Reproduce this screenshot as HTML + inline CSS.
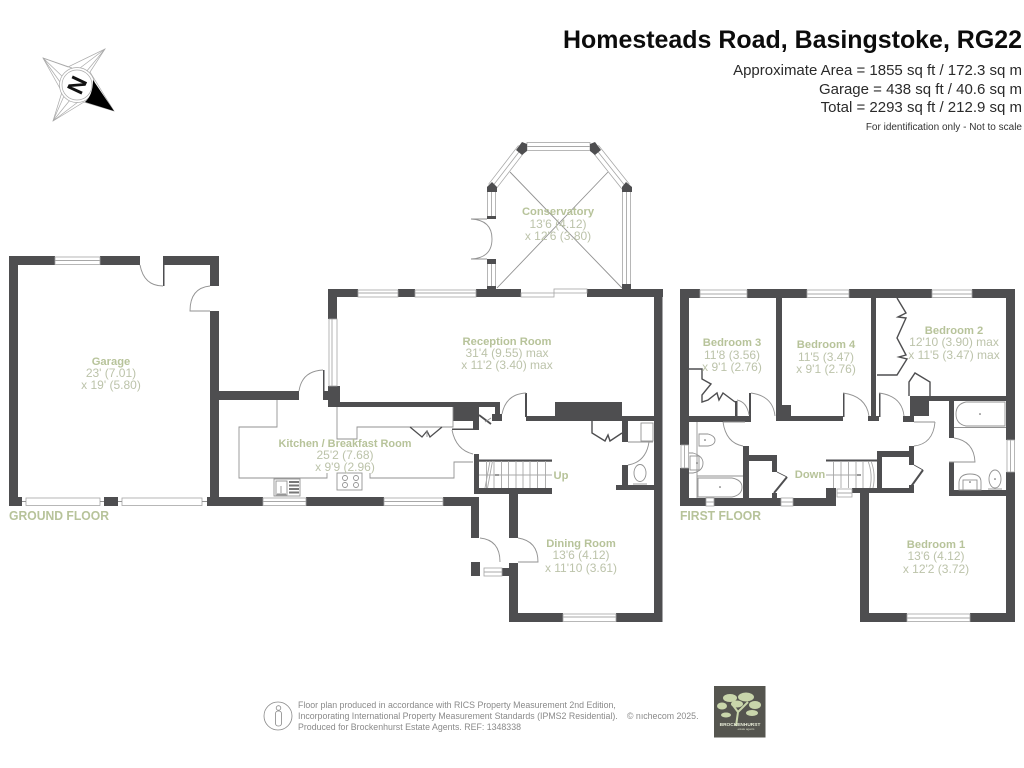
<!DOCTYPE html>
<html><head><meta charset="utf-8"><style>
html,body{margin:0;padding:0;background:#fff;width:1024px;height:768px;overflow:hidden}
svg{display:block}
text{font-family:"Liberation Sans",sans-serif}
.b{font-weight:bold;font-size:11.2px;fill:#b7c39a;text-anchor:middle}
.d{font-size:12px;fill:#bcc3aa;text-anchor:middle}
.w rect{fill:#4e4e50}
.win rect{fill:#fff;stroke:#a5a5a5;stroke-width:.8}
.t{fill:none;stroke:#929292;stroke-width:.9}
.l{fill:none;stroke:#a8a8a8;stroke-width:.9}
</style></head><body>
<svg width="1024" height="768" viewBox="0 0 1024 768" xmlns="http://www.w3.org/2000/svg">
<rect width="1024" height="768" fill="#fff"/>

<!-- header -->
<text x="563" y="48" font-size="25" font-weight="bold" fill="#0c0c0c" textLength="459" lengthAdjust="spacingAndGlyphs">Homesteads Road, Basingstoke, RG22</text>
<g fill="#2a2a2a" font-size="15" text-anchor="end">
<text x="1022" y="75">Approximate Area = 1855 sq ft / 172.3 sq m</text>
<text x="1022" y="94">Garage = 438 sq ft / 40.6 sq m</text>
<text x="1022" y="112">Total = 2293 sq ft / 212.9 sq m</text>
</g>
<text x="1022" y="130" font-size="10" fill="#333" text-anchor="end">For identification only - Not to scale</text>

<!-- compass -->
<g fill="none" stroke="#aaa" stroke-width=".7">
<path d="M43 58L68 67L105 49L90 72L114 111L84 102L53 121L62 92Z" fill="#fff"/>
<path d="M43 58L64 78M105 49L86 72M53 121L70 100M43 58L60 82M43 58L72 68M105 49L80 68M53 121L64 96M53 121L78 102"/>
<circle cx="77" cy="85" r="17.500" fill="#fff"/><circle cx="77" cy="85" r="15"/>
</g>
<path d="M93 80L114 111L85 102Q93 95 93 80Z" fill="#000"/>
<text x="0" y="0" font-size="23" font-weight="bold" fill="#111" text-anchor="middle" transform="translate(77,85) rotate(-65) translate(0,8)">N</text>

<!-- ground floor walls -->
<g class="w">
<!-- garage -->
<rect x="9" y="256" width="9" height="250"/>
<rect x="9" y="256" width="46" height="9"/><rect x="100" y="256" width="40" height="9"/>
<rect x="163" y="256" width="56" height="9"/><rect x="210" y="256" width="9" height="30"/>
<rect x="210" y="311" width="9" height="195"/>
<rect x="163" y="256" width="1.500" height="30"/>
<rect x="9" y="497" width="13" height="9"/><rect x="104" y="497" width="14" height="9"/>
<rect x="207" y="497" width="56" height="9"/><rect x="306" y="497" width="78" height="9"/><rect x="443" y="497" width="36" height="9"/>
<rect x="219" y="391" width="80" height="9"/>
<!-- reception -->
<rect x="328" y="289" width="9" height="30"/><rect x="328" y="386" width="12" height="21"/>
<rect x="323" y="370" width="1.500" height="21"/><rect x="323" y="391" width="5" height="9"/>
<rect x="328" y="289" width="30" height="8"/><rect x="398" y="289" width="17" height="8"/>
<rect x="476" y="289" width="45" height="8"/><rect x="587" y="289" width="76" height="8"/>
<rect x="654" y="289" width="8.500" height="333"/>
<rect x="328" y="402" width="172" height="5"/><rect x="495" y="402" width="5" height="13"/>
<rect x="453" y="407" width="26" height="14"/><rect x="473" y="417" width="6" height="13"/>
<rect x="452" y="428.500" width="24" height="1.500"/>
<rect x="492" y="414" width="10" height="7"/>
<rect x="525" y="393" width="2" height="24"/>
<rect x="526" y="416" width="128" height="5"/>
<rect x="555" y="402" width="67" height="19"/>
<!-- WC -->
<rect x="622" y="421" width="6" height="21"/><rect x="622" y="465" width="6" height="20"/>
<rect x="616" y="485" width="38" height="5"/>
<!-- stairs and porch -->
<rect x="474" y="454" width="5" height="40"/><rect x="474" y="488" width="78" height="6"/>
<rect x="479" y="459.500" width="73" height="2.200"/>
<rect x="471" y="497" width="8" height="41"/>
<rect x="509" y="493" width="9" height="45"/>
<rect x="471" y="562" width="9" height="14"/><rect x="502" y="568" width="16" height="8"/>
<rect x="509" y="563" width="9" height="59"/>
<rect x="509" y="613" width="54" height="9"/><rect x="616" y="613" width="46.500" height="9"/>
</g>
<!-- conservatory -->
<g fill="none">
<path d="M522 148L492 187M595 148L626 187" stroke="#a5a5a5" stroke-width="9.500"/>
<path d="M522 148L492 187M595 148L626 187" stroke="#fff" stroke-width="8"/>
<path d="M522 148L492 187M595 148L626 187" stroke="#a5a5a5" stroke-width=".8"/>
</g>
<g class="win">
<rect x="527" y="142.500" width="63" height="8"/>
<rect x="622.500" y="187" width="8" height="102"/>
<rect x="487.500" y="187" width="8" height="31"/><rect x="487.500" y="262" width="8" height="27"/>
</g>
<path class="l" d="M527 146.500H590M626.500 187V289M491.500 187V218M491.500 262V289"/>
<g fill="#4e4e50">
<path d="M522 142L527 144V151L522 155L516 150Z"/>
<path d="M595 142L590 144V151L595 155L601 150Z"/>
<path d="M492 182L497 187V192H487V187Z"/>
<path d="M626 182L632 187V192H622V187Z"/>
<rect x="487" y="216" width="9" height="3"/><rect x="487" y="259" width="9" height="5"/>
<rect x="487" y="286" width="9" height="4"/><rect x="622" y="284" width="9" height="6"/>
</g>
<path class="t" d="M510 172L622 288M608 172L497 288M471 219Q492 220 492 239Q492 258 471 259M471 219H487M471 259H487"/>
<!-- windows ground -->
<g class="win">
<rect x="55" y="257" width="45" height="7.500"/>
<rect x="26" y="498" width="74" height="7.500"/><rect x="122" y="498" width="80" height="7.500"/>
<rect x="263" y="498" width="43" height="7.500"/><rect x="384" y="498" width="59" height="7.500"/>
<rect x="563" y="614" width="53" height="7.500"/><rect x="484" y="568" width="18" height="8"/>
<rect x="329" y="319" width="8" height="67"/>
<rect x="358" y="290" width="40" height="7"/><rect x="415" y="290" width="61" height="7"/>
<rect x="521" y="293" width="33" height="4"/><rect x="554" y="289" width="33" height="4"/>
</g>
<path class="l" d="M55 260.500H100M263 501.500H306M384 501.500H443M563 617H616M332 319V386M358 293H398M415 293H476M484 572H502"/>
<!-- doors ground -->
<path class="t" d="M140 265Q144 286 163 286M210 286Q190 288 190 311H210M299 391Q302 371 323 370M480 538Q500 540 500 562M518 538Q538 541 538 562H518M502 414Q506 394 526 393M452 430Q456 450 473 454M649 442Q646 462 628 465M628 442H653"/>
<path class="t" d="M22 501.500H26M100 501.500H104M118 501.500H122M202 501.500H207"/>
<!-- kitchen units -->
<path class="t" d="M277 400V427H239V478H327V473M370 473V478H454V462H473M337 407V439H357V427H453V407"/>
<path d="M410 427L422 437L427 431L430 437L442 427" fill="none" stroke="#4e4e50" stroke-width="1.300"/>
<path d="M427 431V437" class="t"/>
<g class="t"><rect x="274" y="479" width="26" height="17"/><rect x="276" y="481" width="11" height="14"/>
<path d="M281 486V493M277 494H286"/></g>
<g fill="#777"><rect x="289" y="481" width="10" height="2"/><rect x="289" y="484.500" width="10" height="2"/><rect x="289" y="488" width="10" height="2"/><rect x="289" y="491.500" width="10" height="2"/></g>
<g class="t"><rect x="337" y="473" width="25" height="17"/><circle cx="345" cy="478" r="2.500"/><circle cx="356" cy="478" r="2.500"/><circle cx="345" cy="485" r="2.500"/><circle cx="356" cy="485" r="2.500"/></g>
<!-- stairs ground -->
<path class="l" d="M486.500 461V488M494 461V488M501.500 461V488M508.500 461V488M516 461V488M523 461V488M530 461V488M537.500 461V488M545.500 461V488M479 475H552M490 461L485 488M492.500 461L487.500 488"/>
<path d="M495 475H499" stroke="#333" stroke-width="1"/>
<!-- closet, wc fixtures -->
<path d="M592 421V433L605 441L608 435L610 441L622 433" fill="none" stroke="#4e4e50" stroke-width="1.400"/>
<g class="t"><rect x="641" y="423" width="12" height="18"/><ellipse cx="640" cy="473" rx="6" ry="8.500"/><path d="M633 484H647"/></g>
<path d="M479 415L491 424" stroke="#4e4e50" stroke-width="1.800"/><path d="M485 422L491 418" class="t"/>

<!-- first floor walls -->
<g class="w">
<rect x="680" y="289" width="9" height="156"/><rect x="680" y="468" width="9" height="38"/>
<rect x="680" y="289" width="20" height="9"/><rect x="747" y="289" width="60" height="9"/>
<rect x="849" y="289" width="83" height="9"/><rect x="972" y="289" width="43" height="9"/>
<rect x="1006" y="289" width="9" height="151"/><rect x="1006" y="472" width="9" height="150"/>
<rect x="776" y="298" width="6" height="118"/><rect x="871" y="298" width="5" height="118"/>
<rect x="776" y="405" width="15" height="16"/><rect x="776" y="416" width="67" height="5"/>
<rect x="843" y="393" width="1.500" height="24"/>
<rect x="868" y="416" width="11" height="5"/><rect x="879" y="393" width="1.500" height="24"/>
<rect x="689" y="416" width="62" height="6"/><rect x="735" y="401" width="2.500" height="16"/>
<rect x="749" y="393" width="2" height="29"/>
<rect x="929" y="396" width="77" height="5"/><rect x="910" y="396" width="19" height="20"/>
<rect x="903" y="416" width="11" height="6"/>
<rect x="949" y="400" width="5" height="38"/><rect x="949" y="462" width="5" height="34"/>
<rect x="949" y="490" width="57" height="6"/>
<rect x="743" y="446" width="6" height="52"/>
<rect x="680" y="498" width="26" height="8"/><rect x="714" y="498" width="67" height="8"/><rect x="793" y="498" width="42" height="8"/>
<rect x="749" y="455" width="28" height="6"/><rect x="772" y="455" width="5" height="17"/><rect x="772" y="493" width="5" height="5"/>
<rect x="826" y="488" width="10" height="18"/>
<rect x="852" y="488" width="62" height="5"/>
<rect x="860" y="493" width="9" height="129"/>
<rect x="860" y="613" width="47" height="9"/><rect x="970" y="613" width="45" height="9"/>
<rect x="877" y="451" width="37" height="6"/><rect x="877" y="451" width="5" height="40"/>
<rect x="909" y="446" width="5" height="19"/><rect x="909" y="485" width="5" height="8"/>
<rect x="826" y="459.500" width="56" height="2"/>
</g>
<g class="win">
<rect x="700" y="290" width="47" height="7.500"/><rect x="807" y="290" width="42" height="7.500"/><rect x="932" y="290" width="40" height="7.500"/>
<rect x="907" y="614" width="63" height="7.500"/>
<rect x="681" y="445" width="7.500" height="23"/><rect x="1007" y="440" width="7.500" height="32"/>
<rect x="706" y="498" width="8" height="8"/><rect x="781" y="498" width="12" height="8"/><rect x="837" y="489" width="15" height="8"/>
</g>
<path class="l" d="M700 294H747M807 294H849M932 294H972M907 618H970M684.500 445V468M1010.500 440V472M706 502H714M781 502H793M837 493H852"/>
<!-- first floor doors -->
<path class="t" d="M751 393Q773 396 775 416M843 393Q866 396 869 416M879 393Q902 396 904 416M723 422Q726 443 743 446M723 422H745M935 422Q933 444 914 446M914 422H935M954 438Q974 441 975 462H949M737 400Q747 402 749 415"/>
<!-- wardrobes -->
<g fill="none" stroke="#4e4e50" stroke-width="1.400">
<path d="M689 369H702V379L711 384L702 395V402L708 400L717 393L719 400L723 393L735 402"/>
<path d="M897 298L906 313L898 317L906 318L897 338L906 355L899 357L907 359L897 375H877"/>
<path d="M909 396V382L915 373L930 382V396"/>
<path d="M774 493L787 477" stroke-width="2"/><path d="M777 472L787 477" stroke-width=".8"/>
<path d="M910 488L923 470" stroke-width="2"/><path d="M914 465L923 470" stroke-width=".8"/>
</g>
<!-- bathroom fixtures -->
<g class="t">
<path d="M697 422V498M697 476H743"/>
<path d="M699 434H708Q715 436 715 440Q715 445 708 446H699Z"/>
<path d="M689 453H693Q703 456 703 463Q703 471 693 473H689"/><rect x="690" y="456" width="9" height="14"/>
<path d="M698 478H732Q742 480 742 487Q742 495 732 497H698Z"/>
<path d="M1005 402V426H966Q956 424 956 414Q956 404 966 402Z"/><path d="M954 427.500H1006"/>
<path d="M959 490V482Q960 474 970 474Q981 474 981 482V490Z"/><rect x="963" y="480" width="14" height="10"/><ellipse cx="995" cy="479" rx="6" ry="9"/><path d="M988 489H1002"/>
</g>
<path class="l" d="M833.500 461V488M841 461V488M848.500 461V488M856 461V488M863 461V488M826 475H860M868 461Q873 474 870 488M871 461Q876 474 873 488"/>
<g fill="#555"><circle cx="705" cy="440" r=".8"/><circle cx="720" cy="487" r=".8"/><circle cx="980" cy="414" r=".8"/><circle cx="995" cy="479" r=".8"/><circle cx="970" cy="482" r=".8"/><circle cx="697" cy="463" r=".8"/></g>
<path d="M857 475H861" stroke="#333" stroke-width="1"/>

<!-- labels -->
<g>
<text class="b" x="111" y="365">Garage</text><text class="d" x="111" y="377">23' (7.01)</text><text class="d" x="111" y="389">x 19' (5.80)</text>
<text class="b" x="345" y="447" textLength="133" lengthAdjust="spacingAndGlyphs">Kitchen / Breakfast Room</text><text class="d" x="345" y="459">25'2 (7.68)</text><text class="d" x="345" y="471">x 9'9 (2.96)</text>
<text class="b" x="558" y="215">Conservatory</text><text class="d" x="558" y="228">13'6 (4.12)</text><text class="d" x="558" y="240">x 12'6 (3.80)</text>
<text class="b" x="507" y="345">Reception Room</text><text class="d" x="507" y="357">31'4 (9.55) max</text><text class="d" x="507" y="369">x 11'2 (3.40) max</text>
<text class="b" x="581" y="547">Dining Room</text><text class="d" x="581" y="559">13'6 (4.12)</text><text class="d" x="581" y="572">x 11'10 (3.61)</text>
<text class="b" x="732" y="346">Bedroom 3</text><text class="d" x="732" y="359">11'8 (3.56)</text><text class="d" x="732" y="371">x 9'1 (2.76)</text>
<text class="b" x="826" y="348">Bedroom 4</text><text class="d" x="826" y="361">11'5 (3.47)</text><text class="d" x="826" y="373">x 9'1 (2.76)</text>
<text class="b" x="954" y="334">Bedroom 2</text><text class="d" x="954" y="346">12'10 (3.90) max</text><text class="d" x="954" y="359">x 11'5 (3.47) max</text>
<text class="b" x="936" y="548">Bedroom 1</text><text class="d" x="936" y="560">13'6 (4.12)</text><text class="d" x="936" y="573">x 12'2 (3.72)</text>
<text class="b" x="561" y="479">Up</text>
<text class="b" x="810" y="478">Down</text>
<text x="9" y="520" font-size="12.500" font-weight="bold" fill="#b7c39a" textLength="100" lengthAdjust="spacingAndGlyphs">GROUND FLOOR</text>
<text x="680" y="520" font-size="12.500" font-weight="bold" fill="#b7c39a" textLength="81" lengthAdjust="spacingAndGlyphs">FIRST FLOOR</text>
</g>

<!-- footer -->
<g fill="none" stroke="#888" stroke-width=".8">
<circle cx="278" cy="716" r="14"/><circle cx="278.500" cy="708" r="2.300"/><rect x="275.500" y="711" width="6" height="15" rx="2.500"/>
</g>
<g fill="#8a8a8a" font-size="8.800">
<text x="298" y="708">Floor plan produced in accordance with RICS Property Measurement 2nd Edition,</text>
<text x="298" y="719">Incorporating International Property Measurement Standards (IPMS2 Residential).</text>
<text x="298" y="730">Produced for Brockenhurst Estate Agents.   REF: 1348338</text>
<text x="627" y="719">© nıchecom 2025.</text>
</g>
<rect x="714" y="686" width="51.500" height="51.500" fill="#55554f"/>
<g fill="#c9d6ab">
<ellipse cx="730" cy="698" rx="7" ry="4"/><ellipse cx="746" cy="697" rx="8" ry="4.500"/>
<ellipse cx="722" cy="706" rx="5" ry="3.500"/><ellipse cx="737" cy="704" rx="6" ry="3.500"/><ellipse cx="755" cy="705" rx="6" ry="4"/>
<ellipse cx="726" cy="715" rx="5" ry="2.500"/><ellipse cx="752" cy="713" rx="6" ry="3"/>
</g>
<path d="M736 726L738 712L732 704M738 712L748 702" stroke="#c9d6ab" stroke-width="2" fill="none"/>
<text x="740" y="726" font-size="4.800" font-weight="bold" fill="#e8ecd8" text-anchor="middle">BROCKENHURST</text>
<text x="746" y="730" font-size="2.800" fill="#d8dcc8" text-anchor="middle">estate agents</text>
</svg>
</body></html>
